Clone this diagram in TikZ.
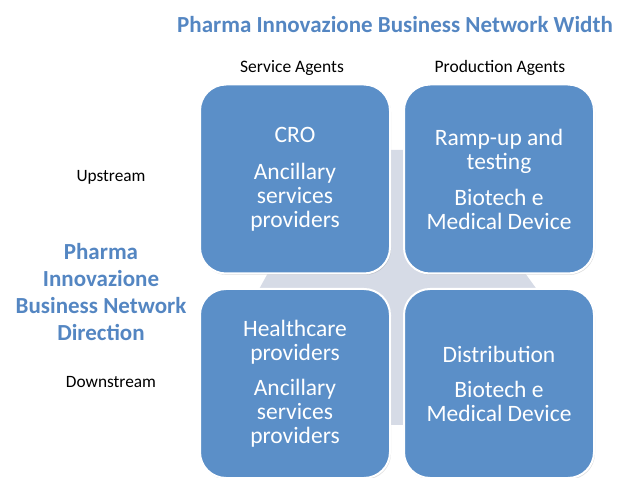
\documentclass[tikz,border=0pt]{standalone}
\usepackage{fontspec}
\setmainfont{Carlito}
\usetikzlibrary{shadows}
\definecolor{boxblue}{HTML}{5B8FC8}
\definecolor{titleblue}{HTML}{5486C2}
\definecolor{crossgrey}{HTML}{D6DBE6}
\begin{document}
\begin{tikzpicture}[x=1pt,y=-1pt,
  cell/.style={draw=white,line width=2pt,fill=boxblue,rounded corners=26pt,
    minimum width=190pt,minimum height=189pt,text=white,align=center,
    font=\fontsize{23.5}{24}\selectfont,inner sep=0pt,
    drop shadow={shadow xshift=1pt,shadow yshift=-1.5pt,opacity=0.25}},
  heading/.style={font=\fontsize{17.5}{20}\selectfont,text=black},
  sidetext/.style={font=\fontsize{17.3}{20}\selectfont,text=black},
  bluetitle/.style={font=\bfseries\fontsize{23}{27}\selectfont,text=titleblue,align=center}]
\useasboundingbox (0,0) rectangle (627,478);
% background cross
\fill[crossgrey] (378,150) -- (417,150) -- (417,262) -- (517,262) -- (546,302)
  -- (417,302) -- (417,425) -- (378,425) -- (378,302) -- (252,302) -- (274,262)
  -- (378,262) -- cycle;
\node[cell] (tl) at (295,179) {CRO\\[13pt]Ancillary\\services\\providers};
\node[cell] (tr) at (499,179) {Ramp-up and\\testing\\[12pt]Biotech e\\Medical Device};
\node[cell] (bl) at (295,383.5) {Healthcare\\providers\\[11pt]Ancillary\\services\\providers};
\node[cell] (br) at (499,383.5) {Distribution\\[11pt]Biotech e\\Medical Device};
\node[bluetitle] (title) at (395,25) {Pharma Innovazione Business Network Width};
\node[heading] (sa) at (292,68) {Service Agents};
\node[heading] (pa) at (500,68) {Production Agents};
\node[sidetext] (up) at (111,177) {Upstream};
\node[sidetext] (down) at (111,382) {Downstream};
\node[bluetitle] (dir) at (101,292) {Pharma\\Innovazione\\Business Network\\Direction};
\end{tikzpicture}
\end{document}
